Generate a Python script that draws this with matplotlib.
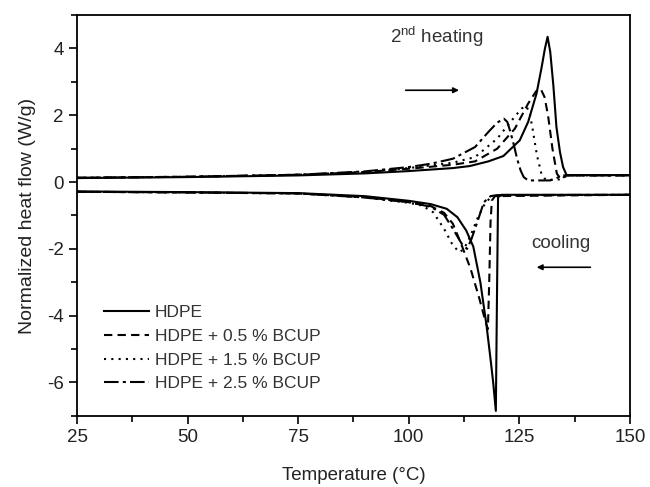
import matplotlib
matplotlib.use("Agg")
import matplotlib.pyplot as plt
from matplotlib.ticker import MultipleLocator

plt.rcParams['font.family'] = ['Liberation Sans', 'DejaVu Sans']
plt.rcParams['axes.unicode_minus'] = False

# values (temperature in degC, heat flow in W/g)
labels = ['HDPE', 'HDPE + 0.5 % BCUP', 'HDPE + 1.5 % BCUP', 'HDPE + 2.5 % BCUP']

# 2nd heating
heat_t_0 = [25, 50, 75, 90, 100, 110, 113.8, 118, 121.4, 125.1, 127, 128.9, 130, 130.8, 131.4, 132, 132.7, 133.4, 134.2, 134.9, 135.7, 150]
heat_q_0 = [0.12, 0.15, 0.2, 0.26, 0.33, 0.42, 0.48, 0.62, 0.78, 1.25, 1.8, 2.65, 3.4, 4.0, 4.35, 3.9, 2.9, 1.65, 0.9, 0.45, 0.21, 0.21]
heat_t_1 = [25, 50, 75, 90, 100, 110, 115, 120, 124, 127, 128.8, 129.8, 130.7, 131.5, 132.5, 133.5, 134.5, 135.5, 150]
heat_q_1 = [0.13, 0.16, 0.22, 0.3, 0.4, 0.52, 0.62, 1.0, 1.6, 2.35, 2.72, 2.8, 2.55, 2.0, 1.0, 0.25, 0.08, 0.2, 0.2]
heat_t_2 = [25, 50, 75, 90, 100, 110, 115, 120, 123, 125.5, 126.5, 127.3, 128, 129, 130, 131, 134, 136, 150]
heat_q_2 = [0.13, 0.16, 0.22, 0.3, 0.42, 0.58, 0.75, 1.3, 1.8, 2.2, 2.28, 2.1, 1.6, 0.8, 0.25, 0.06, 0.08, 0.2, 0.2]
heat_t_3 = [25, 50, 75, 90, 100, 105, 110, 115, 118, 120, 121.5, 122.3, 123, 123.8, 124.5, 125.3, 126, 127, 132, 135, 150]
heat_q_3 = [0.13, 0.16, 0.22, 0.32, 0.45, 0.55, 0.7, 1.05, 1.5, 1.78, 1.9, 1.8, 1.5, 1.1, 0.7, 0.35, 0.15, 0.05, 0.05, 0.2, 0.2]

# cooling
cool_t_0 = [25, 50, 75, 90, 100, 105, 108.6, 111, 113, 114.6, 116.2, 117.6, 118.5, 119.1, 119.7, 119.95, 120.2, 121, 150]
cool_q_0 = [-0.28, -0.3, -0.33, -0.42, -0.56, -0.66, -0.8, -1.05, -1.45, -1.93, -3.0, -4.3, -5.3, -6.0, -6.85, -3.5, -0.45, -0.38, -0.38]
cool_t_1 = [25, 50, 75, 90, 100, 105, 108, 110, 112, 114, 116, 117.2, 117.9, 118.2, 118.5, 118.8, 119.5, 150]
cool_q_1 = [-0.29, -0.31, -0.34, -0.45, -0.6, -0.72, -0.92, -1.25, -1.9, -2.6, -3.5, -4.1, -4.4, -3.0, -1.2, -0.55, -0.42, -0.38]
cool_t_2 = [25, 50, 75, 90, 100, 103, 105.5, 108, 110, 111.5, 112.5, 114, 115.5, 117, 118.5, 120, 150]
cool_q_2 = [-0.29, -0.31, -0.34, -0.46, -0.62, -0.7, -0.9, -1.4, -1.9, -2.1, -2.0, -1.6, -1.1, -0.7, -0.45, -0.4, -0.38]
cool_t_3 = [25, 50, 75, 90, 100, 105, 108, 110, 112, 113.2, 114.2, 115.5, 117, 118.5, 120, 150]
cool_q_3 = [-0.29, -0.31, -0.34, -0.46, -0.6, -0.74, -0.98, -1.4, -1.85, -2.0, -1.7, -1.2, -0.6, -0.42, -0.39, -0.38]

heat_t = [heat_t_0, heat_t_1, heat_t_2, heat_t_3]
heat_q = [heat_q_0, heat_q_1, heat_q_2, heat_q_3]
cool_t = [cool_t_0, cool_t_1, cool_t_2, cool_t_3]
cool_q = [cool_q_0, cool_q_1, cool_q_2, cool_q_3]

styles = ['-', (0, (4, 2.5)), (0, (1, 2.5)), (0, (7, 2, 1.5, 2))]

fig = plt.figure(figsize=(6.5, 4.87), dpi=100)
ax = fig.add_axes([0.1185, 0.146, 0.8505, 0.823])

for i in range(4):
    ax.plot(heat_t[i], heat_q[i], color='black', linestyle=styles[i], lw=1.5, label=labels[i])
    ax.plot(cool_t[i], cool_q[i], color='black', linestyle=styles[i], lw=1.5)

ax.set_xlim(25, 150)
ax.set_ylim(-7, 5)
ax.xaxis.set_major_locator(MultipleLocator(25))
ax.xaxis.set_minor_locator(MultipleLocator(12.5))
ax.yaxis.set_major_locator(MultipleLocator(2))
ax.yaxis.set_minor_locator(MultipleLocator(1))
ax.tick_params(which='major', direction='out', length=6, width=1.2, labelsize=13.5,
               top=False, right=False, labelcolor='#222222')
ax.tick_params(which='minor', direction='out', length=4, width=1.2, top=False, right=False)
for s in ax.spines.values():
    s.set_linewidth(1.3)

ax.set_xlabel('Temperature (°C)', fontsize=13.5, color='#222222', labelpad=15)
ax.set_ylabel('Normalized heat flow (W/g)', fontsize=14, color='#222222', labelpad=8)

ax.text(95.8, 4.35, '2$^{\\mathregular{nd}}$ heating', fontsize=13.5, color='#333333', va='center')
ax.annotate('', xy=(112, 2.75), xytext=(98.7, 2.75),
            arrowprops=dict(arrowstyle='-|>', color='black', lw=1.2, mutation_scale=8))
ax.text(127.8, -1.83, 'cooling', fontsize=13.5, color='#333333', va='center')
ax.annotate('', xy=(128.3, -2.55), xytext=(141.7, -2.55),
            arrowprops=dict(arrowstyle='-|>', color='black', lw=1.2, mutation_scale=8))

ax.legend(loc='lower left', bbox_to_anchor=(0.02, 0.022), frameon=False, fontsize=12.5,
          handlelength=2.6, handletextpad=0.35, labelspacing=0.5, labelcolor='#333333')

fig.savefig('out.png', dpi=100)
